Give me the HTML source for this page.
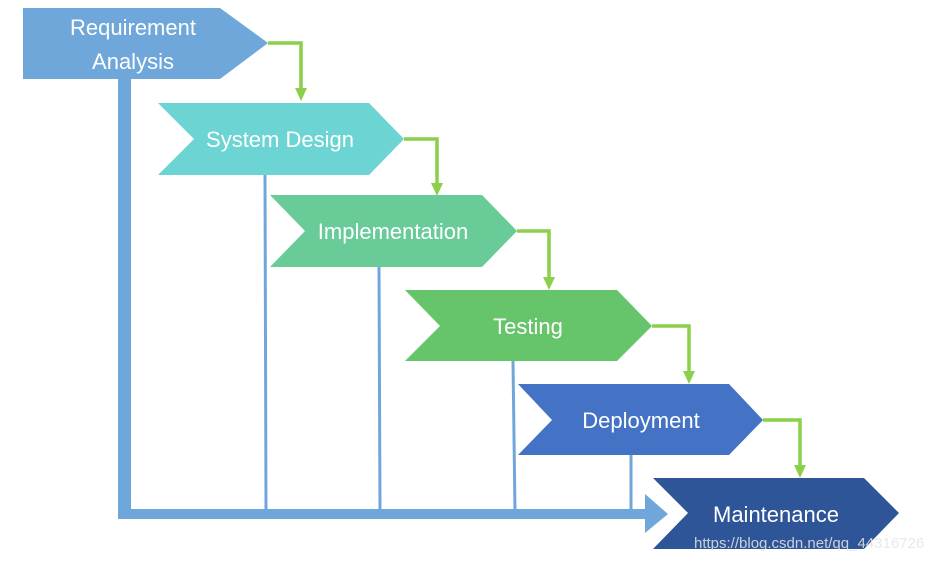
<!DOCTYPE html>
<html><head><style>body{margin:0;background:#fff}svg{display:block}text{font-family:"Liberation Sans",sans-serif;fill:#fff}</style></head><body>
<svg width="948" height="561" viewBox="0 0 948 561">
<g stroke="#6fa7da" stroke-width="3" fill="none">
<line x1="265" y1="175" x2="266" y2="512"/>
<line x1="379" y1="267" x2="380" y2="512"/>
<line x1="513" y1="361" x2="515" y2="512"/>
<line x1="631" y1="455" x2="631" y2="512"/>
</g>
<path d="M118,79 H131 V509 H645 V494 L668,514 L645,533 V519 H118 Z" fill="#6fa7da"/>
<g stroke="#8ccf4a" stroke-width="3.5" fill="none">
<polyline points="268,43 301,43 301,90"/>
<polyline points="404,139 437,139 437,184"/>
<polyline points="517,231 549,231 549,278"/>
<polyline points="652,326 689,326 689,372"/>
<polyline points="763,420 800,420 800,466"/>
</g>
<g fill="#8ccf4a">
<polygon points="295,88 307,88 301,101"/>
<polygon points="431,183 443,183 437,196"/>
<polygon points="543,277 555,277 549,290"/>
<polygon points="683,371 695,371 689,384"/>
<polygon points="794,465 806,465 800,478"/>
</g>
<polygon points="23,8 220,8 268,43 220,79 23,79" fill="#6fa7da"/>
<polygon points="158,103 369,103 404,139 369,175 158,175 194,139" fill="#6dd4d4"/>
<polygon points="270,195 482,195 517,231 482,267 270,267 305,231" fill="#69cb98"/>
<polygon points="405,290 617,290 652,326 617,361 405,361 440,326" fill="#66c56b"/>
<polygon points="518,384 729,384 763,420 729,455 518,455 552,420" fill="#4472c4"/>
<polygon points="653,478 864,478 899,513 864,549 653,549 688,513" fill="#2e5597"/>
<g font-size="22" text-anchor="middle">
<text x="133" y="35">Requirement</text>
<text x="133" y="69">Analysis</text>
<text x="280" y="147">System Design</text>
<text x="393" y="239">Implementation</text>
<text x="528" y="334">Testing</text>
<text x="641" y="428">Deployment</text>
<text x="776" y="522">Maintenance</text>
</g>
<text x="694" y="548" font-size="15" style="fill:#e6e6e6;opacity:.85">https://blog.csdn.net/qq_44316726</text>
</svg>
</body></html>
